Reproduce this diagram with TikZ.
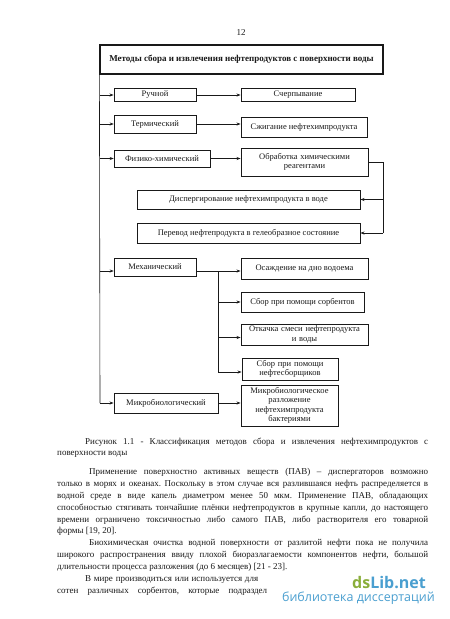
\documentclass[tikz,border=0pt]{standalone}
\usepackage{fontspec}
\setmainfont{Liberation Serif}
\newfontfamily\wmfont{Open Sans}
\usetikzlibrary{arrows.meta}
\definecolor{wmgreen}{RGB}{138,174,58}
\definecolor{wmblue}{RGB}{74,159,208}
\definecolor{ink}{RGB}{25,25,25}
\frenchspacing
\begin{document}
\begin{tikzpicture}[x=1pt,y=-1pt,
  box/.style={draw=ink, text=ink, line width=0.9pt, inner sep=1pt, align=center,
    font=\fontsize{8.5}{9.5}\selectfont, anchor=center},
  conn/.style={draw=ink, line width=0.6pt},
  arr/.style={conn, -{Stealth[length=4pt,width=3pt]}},
  body/.style={anchor=base west, inner sep=0pt, text=ink, font=\fontsize{9}{11}\selectfont}]
\useasboundingbox (0,0) rectangle (450,619);
\fill[white] (0,0) rectangle (450,619);

% page number
\node[body, anchor=center] (pnum) at (241,33) {12};

% diagram boxes
\node[box, line width=1.2pt, minimum width=283pt, minimum height=29pt, font=\bfseries\fontsize{9}{10}\selectfont] (title) at (241.5,59.5)
  {Методы сбора и извлечения нефтепродуктов с поверхности воды};
\node[box, minimum width=82pt, minimum height=13pt] (ruch) at (155,95) {Ручной};
\node[box, minimum width=114pt, minimum height=13pt] (scher) at (298,95) {Счерпывание};
\node[box, minimum width=82pt, minimum height=18pt, line width=0.6pt] (term) at (155,124) {Термический};
\node[box, minimum width=126pt, minimum height=20pt] (szhig) at (304,127) {Сжигание нефтехимпродукта};
\node[box, minimum width=96pt, minimum height=17pt, line width=0.6pt] (fiz) at (162,158.5) {Физико-химический};
\node[box, minimum width=127pt, minimum height=28pt, text width=120pt] (obr) at (304.5,162) {Обработка химическими\\реагентами};
\node[box, minimum width=223pt, minimum height=19pt] (disp) at (248.5,199.5) {Диспергирование нефтехимпродукта в воде};
\node[box, minimum width=223pt, minimum height=20pt] (perev) at (248.5,233) {Перевод нефтепродукта в гелеобразное состояние};
\node[box, minimum width=82pt, minimum height=18pt, line width=0.6pt] (mech) at (155,267) {Механический};
\node[box, minimum width=127pt, minimum height=21pt] (osazh) at (304.5,268.5) {Осаждение на дно водоема};
\node[box, minimum width=123pt, minimum height=20pt] (sorb) at (302.5,302) {Сбор при помощи сорбентов};
\node[box, minimum width=127pt, minimum height=21pt, text width=124pt] (otk) at (304.5,334.5) {Откачка смеси нефтепродукта\\и воды};
\node[box, minimum width=96pt, minimum height=22pt, text width=92pt] (neft) at (290,369) {Сбор при помощи\\нефтесборщиков};
\node[box, minimum width=104pt, minimum height=20pt] (micro) at (166,403) {Микробиологический};
\node[box, minimum width=97pt, minimum height=41pt, text width=94pt, font=\fontsize{8.5}{9.5}\selectfont] (micror) at (289.5,405.5)
  {Микробиологическое\\разложение\\нефтехимпродукта\\бактериями};

% connectors
\coordinate (tx) at (100,0);
\coordinate (bx) at (218,0);
\coordinate (rx) at (383,0);
\path (mech.west) ++(0,4) coordinate (mW);
\path (mech.east) ++(0,4) coordinate (mE);

\draw[conn] (title.south west) -- (tx |- micro.west);
\draw[arr] (tx |- ruch.west) -- (ruch.west);
\draw[arr] (tx |- term.west) -- (term.west);
\draw[arr] (tx |- fiz.west) -- (fiz.west);
\draw[arr] (tx |- mW) -- (mW);
\draw[arr] (tx |- micro.west) -- (micro.west);

\draw[arr] (ruch.east) -- (ruch.east -| scher.west);
\draw[arr] (term.east) -- (term.east -| szhig.west);
\draw[arr] (fiz.east) -- (fiz.east -| obr.west);
\draw[arr] (micro.east) -- (micro.east -| micror.west);

\draw[conn] (obr.east) -- (obr.east -| rx) -- (rx |- perev.east);
\draw[arr] (rx |- disp.east) -- (disp.east);
\draw[arr] (rx |- perev.east) -- (perev.east);

\draw[arr] (mE) -- (mE -| osazh.west);
\draw[conn] (bx |- mE) -- ([yshift=-3pt]bx |- neft.west);
\draw[arr] (bx |- sorb.west) -- (sorb.west);
\draw[arr] ([yshift=-3pt]bx |- otk.west) -- ([yshift=-3pt]otk.west);
\draw[arr] ([yshift=-3pt]bx |- neft.west) -- ([yshift=-3pt]neft.west);

% caption and body text
\node[body] (l1) at (85,444) {\makebox[343pt][s]{Рисунок 1.1 - Классификация методов сбора и извлечения нефтехимпродуктов с}};
\node[body] (l2) at (57,455) {поверхности воды};
\node[body] (l3) at (89,474) {\makebox[339pt][s]{Применение поверхностно активных веществ (ПАВ) – диспергаторов возможно}};
\node[body] (l4) at (57,486) {\makebox[371pt][s]{только в морях и океанах. Поскольку в этом случае вся разлившаяся нефть распределяется в}};
\node[body] (l5) at (57,498) {\makebox[371pt][s]{водной среде в виде капель диаметром менее 50 мкм. Применение ПАВ, обладающих}};
\node[body] (l6) at (57,510) {\makebox[371pt][s]{способностью стягивать тончайшие плёнки нефтепродуктов в крупные капли, до настоящего}};
\node[body] (l7) at (57,522) {\makebox[371pt][s]{времени ограничено токсичностью либо самого ПАВ, либо растворителя его товарной}};
\node[body] (l8) at (57,533) {формы [19, 20].};
\node[body] (l9) at (89,545) {\makebox[339pt][s]{Биохимическая очистка водной поверхности от разлитой нефти пока не получила}};
\node[body] (l10) at (57,557) {\makebox[371pt][s]{широкого распространения ввиду плохой биоразлагаемости компонентов нефти, большой}};
\node[body] (l11) at (57,569) {длительности процесса разложения (до 6 месяцев) [21 - 23].};
\node[body] (l12) at (85,581) {\makebox[173pt][s]{В мире производиться или используется для}};
\node[body] (l13) at (57,593) {\makebox[210pt][s]{сотен различных сорбентов, которые подраздел}};

% watermark
\node[anchor=base west, inner sep=0pt, font=\wmfont\bfseries\fontsize{16}{16}\selectfont] (wm1) at (352,588)
  {\textcolor{wmgreen}{ds}\textcolor{wmblue}{Lib.net}};
\node[anchor=base east, inner sep=0pt, text=wmblue, font=\wmfont\fontsize{12.5}{13}\selectfont] (wm2) at (435,601)
  {библиотека диссертаций};
\end{tikzpicture}
\end{document}
